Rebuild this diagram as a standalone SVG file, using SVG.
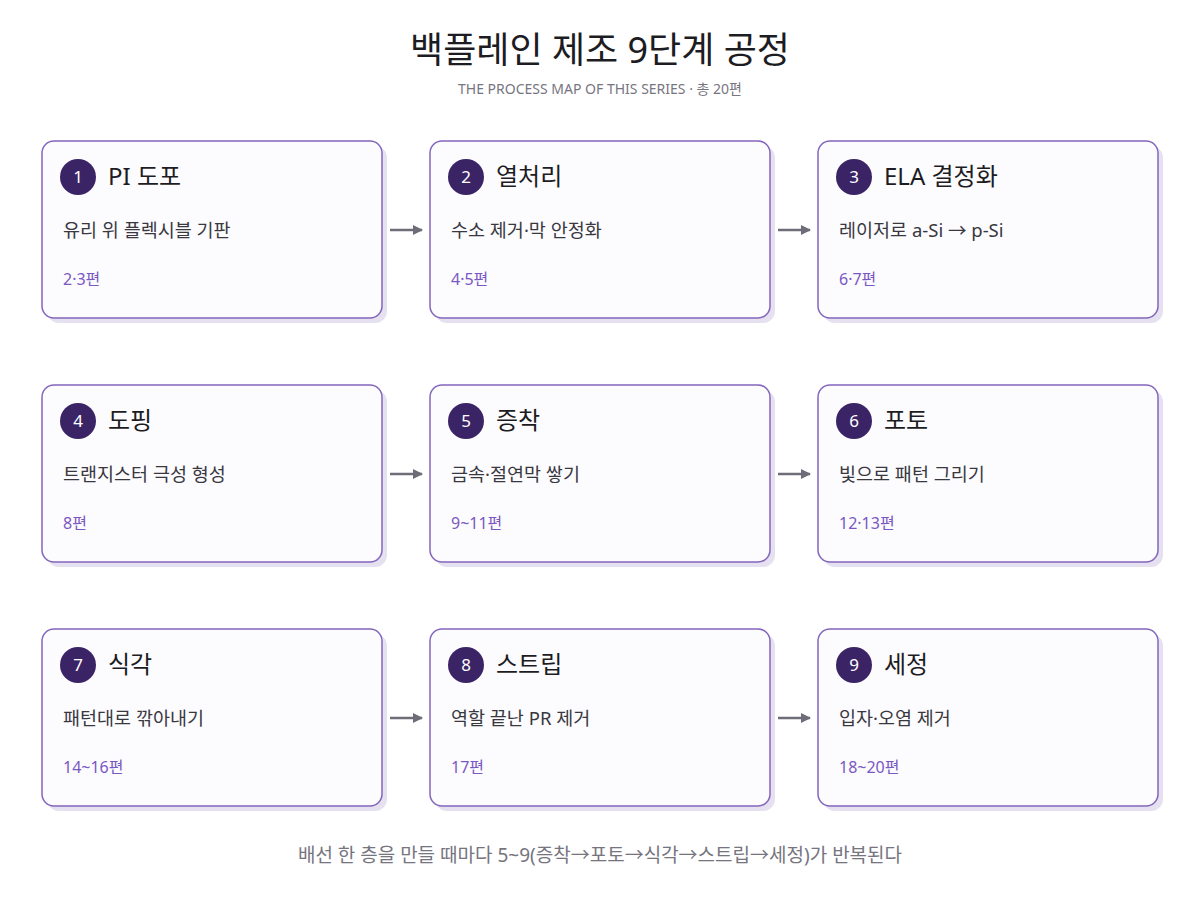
<svg xmlns="http://www.w3.org/2000/svg" width="1200" height="900" viewBox="0 0 1200 900">
<defs>
<style>
text{font-family:"Noto Sans","Noto Sans CJK KR",sans-serif}
.shadow{fill:#e6e1f0}
.card{fill:#fcfbfe;stroke:#8466bd;stroke-width:1.5}
.badge{fill:#3b2466}
.num{fill:#fff;font-size:17px;text-anchor:middle}
.ttl{fill:#1c1c22;font-size:24px}
.desc{fill:#38383e;font-size:18.5px}
.pg{fill:#7a58c2;font-size:16px}
.conn{stroke:#6e6c78;stroke-width:2.5;fill:none}
</style>
<marker id="ah" viewBox="0 0 10 10" refX="9" refY="5" markerWidth="10" markerHeight="10" markerUnits="userSpaceOnUse" orient="auto">
<path d="M0,0 L10,5 L0,10 z" fill="#6e6c78"/>
</marker>
</defs>
<rect width="1200" height="900" fill="#ffffff"/>
<text x="600" y="63" font-size="36" text-anchor="middle" fill="#1c1c22">백플레인 제조 9단계 공정</text>
<text x="600" y="94" font-size="14" text-anchor="middle" fill="#77757f">THE PROCESS MAP OF THIS SERIES · 총 20편</text>

<g id="connectors">
<line class="conn" x1="390" y1="230" x2="422" y2="230" marker-end="url(#ah)"/>
<line class="conn" x1="778" y1="230" x2="810" y2="230" marker-end="url(#ah)"/>
<line class="conn" x1="390" y1="474" x2="422" y2="474" marker-end="url(#ah)"/>
<line class="conn" x1="778" y1="474" x2="810" y2="474" marker-end="url(#ah)"/>
<line class="conn" x1="390" y1="718" x2="422" y2="718" marker-end="url(#ah)"/>
<line class="conn" x1="778" y1="718" x2="810" y2="718" marker-end="url(#ah)"/>
</g>

<g id="node1" transform="translate(42,141)">
<rect class="shadow" x="5" y="5" width="340" height="177" rx="12"/>
<rect class="card" width="340" height="177" rx="12"/>
<circle class="badge" cx="36" cy="36" r="18"/>
<text class="num" x="36" y="42">1</text>
<text class="ttl" x="66" y="44">PI 도포</text>
<text class="desc" x="21" y="96">유리 위 플렉시블 기판</text>
<text class="pg" x="21" y="144">2·3편</text>
</g>
<g id="node2" transform="translate(430,141)">
<rect class="shadow" x="5" y="5" width="340" height="177" rx="12"/>
<rect class="card" width="340" height="177" rx="12"/>
<circle class="badge" cx="36" cy="36" r="18"/>
<text class="num" x="36" y="42">2</text>
<text class="ttl" x="66" y="44">열처리</text>
<text class="desc" x="21" y="96">수소 제거·막 안정화</text>
<text class="pg" x="21" y="144">4·5편</text>
</g>
<g id="node3" transform="translate(818,141)">
<rect class="shadow" x="5" y="5" width="340" height="177" rx="12"/>
<rect class="card" width="340" height="177" rx="12"/>
<circle class="badge" cx="36" cy="36" r="18"/>
<text class="num" x="36" y="42">3</text>
<text class="ttl" x="66" y="44">ELA 결정화</text>
<text class="desc" x="21" y="96">레이저로 a-Si → p-Si</text>
<text class="pg" x="21" y="144">6·7편</text>
</g>

<g id="node4" transform="translate(42,385)">
<rect class="shadow" x="5" y="5" width="340" height="177" rx="12"/>
<rect class="card" width="340" height="177" rx="12"/>
<circle class="badge" cx="36" cy="36" r="18"/>
<text class="num" x="36" y="42">4</text>
<text class="ttl" x="66" y="44">도핑</text>
<text class="desc" x="21" y="96">트랜지스터 극성 형성</text>
<text class="pg" x="21" y="144">8편</text>
</g>
<g id="node5" transform="translate(430,385)">
<rect class="shadow" x="5" y="5" width="340" height="177" rx="12"/>
<rect class="card" width="340" height="177" rx="12"/>
<circle class="badge" cx="36" cy="36" r="18"/>
<text class="num" x="36" y="42">5</text>
<text class="ttl" x="66" y="44">증착</text>
<text class="desc" x="21" y="96">금속·절연막 쌓기</text>
<text class="pg" x="21" y="144">9~11편</text>
</g>
<g id="node6" transform="translate(818,385)">
<rect class="shadow" x="5" y="5" width="340" height="177" rx="12"/>
<rect class="card" width="340" height="177" rx="12"/>
<circle class="badge" cx="36" cy="36" r="18"/>
<text class="num" x="36" y="42">6</text>
<text class="ttl" x="66" y="44">포토</text>
<text class="desc" x="21" y="96">빛으로 패턴 그리기</text>
<text class="pg" x="21" y="144">12·13편</text>
</g>

<g id="node7" transform="translate(42,629)">
<rect class="shadow" x="5" y="5" width="340" height="177" rx="12"/>
<rect class="card" width="340" height="177" rx="12"/>
<circle class="badge" cx="36" cy="36" r="18"/>
<text class="num" x="36" y="42">7</text>
<text class="ttl" x="66" y="44">식각</text>
<text class="desc" x="21" y="96">패턴대로 깎아내기</text>
<text class="pg" x="21" y="144">14~16편</text>
</g>
<g id="node8" transform="translate(430,629)">
<rect class="shadow" x="5" y="5" width="340" height="177" rx="12"/>
<rect class="card" width="340" height="177" rx="12"/>
<circle class="badge" cx="36" cy="36" r="18"/>
<text class="num" x="36" y="42">8</text>
<text class="ttl" x="66" y="44">스트립</text>
<text class="desc" x="21" y="96">역할 끝난 PR 제거</text>
<text class="pg" x="21" y="144">17편</text>
</g>
<g id="node9" transform="translate(818,629)">
<rect class="shadow" x="5" y="5" width="340" height="177" rx="12"/>
<rect class="card" width="340" height="177" rx="12"/>
<circle class="badge" cx="36" cy="36" r="18"/>
<text class="num" x="36" y="42">9</text>
<text class="ttl" x="66" y="44">세정</text>
<text class="desc" x="21" y="96">입자·오염 제거</text>
<text class="pg" x="21" y="144">18~20편</text>
</g>

<text x="600" y="862" font-size="19" text-anchor="middle" fill="#76747e">배선 한 층을 만들 때마다 5~9(증착→포토→식각→스트립→세정)가 반복된다</text>
</svg>
